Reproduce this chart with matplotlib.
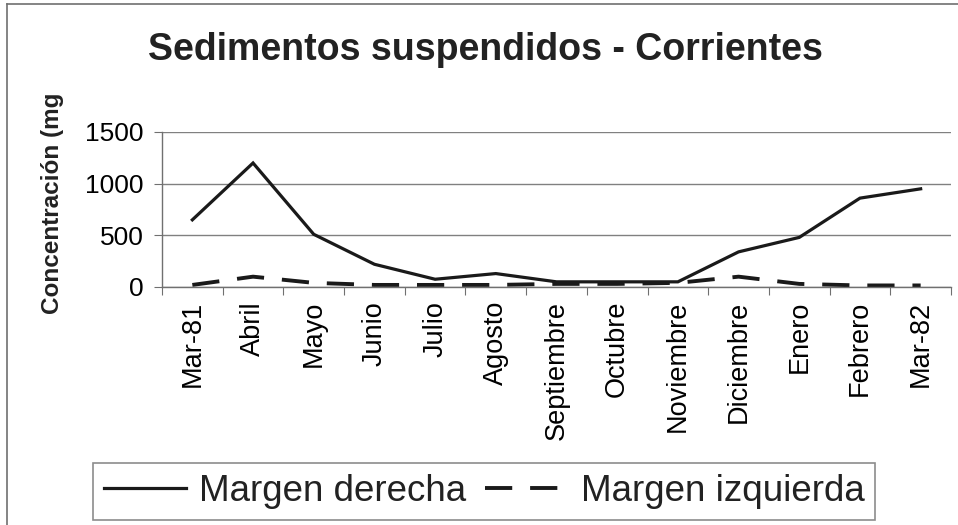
import matplotlib
matplotlib.use("Agg")
from matplotlib import pyplot as plt
from matplotlib.lines import Line2D

plt.rcParams['font.family'] = ['Liberation Sans', 'DejaVu Sans']

meses = ["Mar-81", "Abril", "Mayo", "Junio", "Julio", "Agosto", "Septiembre",
         "Octubre", "Noviembre", "Diciembre", "Enero", "Febrero", "Mar-82"]
margen_derecha   = [650, 1200, 510, 220, 75, 130, 50, 50, 50, 340, 480, 860, 950]
margen_izquierda = [20, 100, 40, 20, 20, 20, 30, 30, 40, 100, 30, 15, 15]

W, H = 958, 525
fig = plt.figure(figsize=(W / 100, H / 100), dpi=100)
fig.patch.set_facecolor("white")

# outer chart border (top and left visible)
fig.add_artist(Line2D([7 / W, 1.0], [1 - 4 / H, 1 - 4 / H], color="#707070", lw=1.2))
fig.add_artist(Line2D([7 / W, 7 / W], [0, 1 - 4 / H], color="#707070", lw=1.2))

ax = fig.add_axes([162 / W, 1 - 287 / H, (951 - 162) / W, (287 - 132) / H])
x = list(range(len(meses)))
ax.plot(x, margen_derecha, color="#1a1a1a", lw=2.3, solid_joinstyle="miter")
ax.plot(x, margen_izquierda, color="#1a1a1a", lw=2.8, dashes=(7, 4.6))

ax.set_xlim(-0.5, len(meses) - 0.5)
ax.set_ylim(0, 1500)
ax.set_yticks([0, 500, 1000, 1500])
ax.grid(axis="y", color="#808080", lw=1)
ax.set_axisbelow(True)

# category ticks sit between months, labels at the centres
ax.set_xticks([i - 0.5 for i in range(len(meses) + 1)])
ax.set_xticklabels([])
ax.set_xticks(x, minor=True)
ax.set_xticklabels(meses, minor=True, rotation=90, fontsize=19.5)
ax.tick_params(axis="x", which="major", length=6, color="#707070", direction="out")
ax.tick_params(axis="x", which="minor", length=0, pad=10)
ax.tick_params(axis="y", length=6, color="#707070", labelsize=19, pad=7)

for side in ["top", "right"]:
    ax.spines[side].set_visible(False)
for side in ["left", "bottom"]:
    ax.spines[side].set_color("#707070")
    ax.spines[side].set_linewidth(1)

fig.text(485 / W, 1 - 50 / H, "Sedimentos suspendidos - Corrientes",
         ha="center", va="center", fontsize=27, fontweight="bold", color="#222222")
fig.text(53 / W, 1 - 203 / H, "Concentración (mg", rotation=90,
         ha="center", va="center", fontsize=17.5, fontweight="bold", color="#222222")

handles = [Line2D([], [], color="#1a1a1a", lw=2.3),
           Line2D([], [], color="#1a1a1a", lw=2.8, dashes=(7, 4.6))]
leg = fig.legend(handles, ["Margen derecha", "Margen izquierda"],
                 loc="center", bbox_to_anchor=(484 / W, 1 - 491.5 / H),
                 ncol=2, fontsize=26.5, frameon=True, fancybox=False,
                 handlelength=2.25, handletextpad=0.35, columnspacing=0.5,
                 borderpad=0.3, borderaxespad=0)
leg.get_frame().set_edgecolor("#707070")
leg.get_frame().set_linewidth(1.2)
for t in leg.get_texts():
    t.set_color("#222222")

fig.savefig("out.png", dpi=100)
